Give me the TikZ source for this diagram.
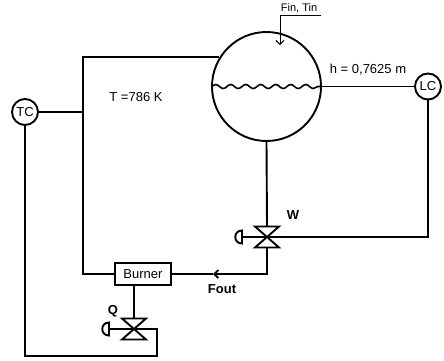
\documentclass[tikz,border=0pt]{standalone}
\usepackage{fontspec}
\setmainfont{Liberation Sans}
\usetikzlibrary{positioning, arrows.meta, calc, shapes, decorations.pathmorphing}

\tikzset{
	valve/.pic={
		\draw (-12,-10.5) -- (12,-10.5) -- (-12,10.5) -- (12,10.5) -- cycle;
		\draw (0,0) -- (-25,0);
		\draw (-25,-6.5) .. controls (-34,-6.5) and (-34,6.5) .. (-25,6.5) -- cycle;
		\coordinate (-c) at (0,0);
		\coordinate (-top) at (0,-10.5);
		\coordinate (-bottom) at (0,10.5);
	},
	ctrl/.style={circle, draw, minimum size=26pt, inner sep=0pt},
	lbl/.style={font=\fontsize{13}{15}\selectfont},
	blbl/.style={font=\fontsize{13}{15}\selectfont\bfseries},
}

\begin{document}
\begin{tikzpicture}[x=1pt, y=-1pt, line width=1.9pt, font=\fontsize{13}{15}\selectfont]
		\useasboundingbox (0,0) rectangle (444,360);
		
		%Creo i nodi dello schema
		\node (tank) at (266.5,86.5) [circle, draw, minimum size=109pt, inner sep=0pt] {};
		
		\node (TC) at (25,112) [ctrl] {TC};
		
		\node (LC) at (428,86.5) [ctrl] {LC};
		
		\node (burner) at (143,274) [rectangle, draw, minimum width=56pt, minimum height=22pt, inner sep=1pt] {Burner};
		
		\pic (vW) at (267,237) {valve};
		\pic (vQ) at (134,329) {valve};
		
		\coordinate (tjoin) at (83,112);
		\coordinate (foutArrow) at (213,274);
		\coordinate (qCorner) at (157,356);
		\coordinate (finStart) at (280,15);
		\coordinate (finTip) at (280,45);
		
		%Etichette
		\node (finLabel) at (299,8) [font=\fontsize{11}{13}\selectfont] {Fin, Tin};
		\node (hLabel) at (368,70) [lbl] {h = 0,7625 m};
		\node (tLabel) at (136,97) [lbl] {T =786 K};
		\node (wLabel) at (293,215) [blbl] {W};
		\node (foutLabel) at (222,289) [blbl] {Fout};
		\node (qLabel) at (113,311) [blbl] {Q};
		
		%Livello del liquido
		\draw[line width=1.6pt, decorate, decoration={snake, amplitude=2pt, segment length=15pt}] (tank.west) -- (tank.east);
		
		%Collegamenti
		\draw[line width=1pt] (finLabel.east |- finStart) -- (finStart);
		\draw[line width=1pt, -{Straight Barb[length=4pt, width=8pt]}] (finStart) -- (finTip);
		\draw (tank.east) -- (LC.west);
		\draw (LC.south) |- (vW-c);
		\draw (tank.south) -- (vW-top);
		\draw[-{Straight Barb[length=4pt, width=8pt]}] (vW-bottom) |- (foutArrow);
		\draw (foutArrow) -- (burner.east);
		\draw (tank.148) -| (tjoin) |- (burner.west);
		\draw (TC.east) -- (tjoin);
		\draw (vQ-top) -- (vQ-top |- burner.south);
		\draw (TC.south) |- (qCorner) |- (vQ-c);
		
		\end{tikzpicture}
\end{document}
